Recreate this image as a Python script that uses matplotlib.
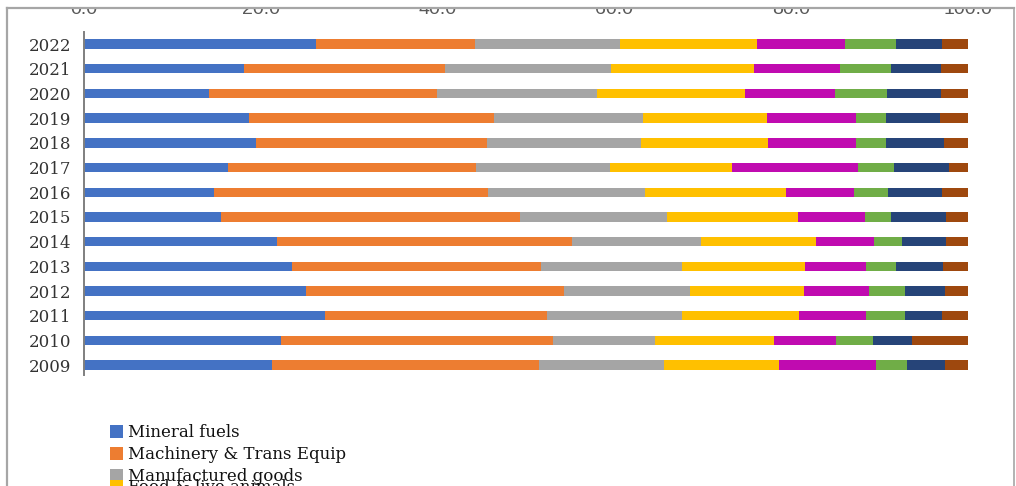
import matplotlib
matplotlib.use("Agg")
import matplotlib.pyplot as plt
from matplotlib.patches import Rectangle, Patch
from matplotlib.lines import Line2D
import numpy as np

years = ["2009", "2010", "2011", "2012", "2013", "2014", "2015",
         "2016", "2017", "2018", "2019", "2020", "2021", "2022"]

categories = ["Mineral fuels", "Machinery & Trans Equip", "Manufactured goods",
              "Food & live animals", "Chemicals", "Crude materials",
              "Misc. manufactured articles", "Others"]

colors = ["#4472C4", "#ED7D31", "#A5A5A5", "#FFC000",
          "#C00BB0", "#70AD47", "#264478", "#9E480E"]

# Percentage shares per year (2009 ... 2022), one list per category
mineral_fuels   = [21.3, 22.3, 27.3, 25.1, 23.5, 21.8, 15.5, 14.7, 16.3, 19.5, 18.7, 14.1, 18.1, 26.3]
machinery       = [30.2, 30.8, 25.1, 29.2, 28.2, 33.4, 33.8, 31.0, 28.1, 26.1, 27.7, 25.8, 22.7, 17.9]
manufactured    = [14.1, 11.5, 15.3, 14.2, 16.0, 14.6, 16.7, 17.8, 15.1, 17.4, 16.8, 18.1, 18.8, 16.4]
food            = [13.0, 13.4, 13.2, 12.9, 13.9, 13.0, 14.8, 15.9, 13.8, 14.4, 14.1, 16.8, 16.2, 15.5]
chemicals       = [11.0,  7.1,  7.6,  7.4,  6.9,  6.6,  7.5,  7.7, 14.2,  9.9, 10.0, 10.2,  9.7, 10.0]
crude           = [ 3.5,  4.1,  4.4,  4.1,  3.4,  3.1,  3.0,  3.8,  4.1,  3.4,  3.4,  5.8,  5.8,  5.8]
misc_articles   = [ 4.3,  4.5,  4.2,  4.5,  5.3,  5.0,  6.2,  6.2,  6.2,  6.6,  6.1,  6.1,  5.7,  5.2]
others          = [ 2.9,  6.3,  2.9,  2.6,  2.8,  2.5,  2.5,  2.9,  2.2,  2.7,  3.2,  3.1,  3.0,  2.9]

series = [mineral_fuels, machinery, manufactured, food,
          chemicals, crude, misc_articles, others]

xticks = [0, 20, 40, 60, 80, 100]

W, H = 1016, 486
fig = plt.figure(figsize=(W / 100, H / 100), dpi=100)
fig.patch.set_facecolor("white")

def px(x0, y0, x1, y1):
    return [x0 / W, 1 - y1 / H, (x1 - x0) / W, (y1 - y0) / H]

ax = fig.add_axes(px(84, 32, 968, 375))

y = np.arange(len(years))
left = np.zeros(len(years))
for vals, col, name in zip(series, colors, categories):
    vals = np.array(vals)
    ax.barh(y, vals, left=left, height=0.38, color=col, label=name, zorder=2)
    left += vals

ax.set_xlim(0, 100)
ax.set_ylim(-0.4, 13.49)
ax.set_yticks(y)
ax.set_yticklabels(years, family="DejaVu Serif", fontsize=12, color="#333333")
ax.xaxis.tick_top()
ax.set_xticks(xticks)
ax.set_xticklabels([f"{v:.1f}" for v in xticks], family="Liberation Sans",
                   fontsize=14, color="#595959")
ax.tick_params(axis="x", length=0, pad=10)
ax.tick_params(axis="y", length=0, pad=9)
for s in ["top", "right", "bottom"]:
    ax.spines[s].set_visible(False)
ax.spines["left"].set_color("#7f7f7f")
ax.spines["left"].set_linewidth(1.4)
ax.set_facecolor("white")

# white band above the outer frame, hiding the upper part of the tick labels
fig.add_artist(Rectangle((0, 1 - 8 / H), 1, 8 / H, transform=fig.transFigure,
                         facecolor="white", edgecolor="none", zorder=10))

# outer frame of the figure panel
frame_col = "#a6a6a6"
fig.add_artist(Line2D([7 / W, 1014 / W], [1 - 8 / H, 1 - 8 / H],
                      transform=fig.transFigure, color=frame_col, lw=1.6, zorder=11))
fig.add_artist(Line2D([7 / W, 7 / W], [0, 1 - 8 / H],
                      transform=fig.transFigure, color=frame_col, lw=1.6, zorder=11))
fig.add_artist(Line2D([1014 / W, 1014 / W], [0, 1 - 8 / H],
                      transform=fig.transFigure, color=frame_col, lw=1.2, zorder=11))

handles = [Patch(facecolor=c, edgecolor="none") for c in colors]
legend_kw = dict(frameon=False, loc="upper left", borderpad=0, borderaxespad=0,
                 handlelength=0.8, handleheight=0.8, handletextpad=0.3,
                 labelspacing=0.3, prop={"family": "DejaVu Serif", "size": 12})
leg1 = fig.legend(handles[:3], categories[:3],
                  bbox_to_anchor=(110 / W, 1 - 424 / H), **legend_kw)
leg2 = fig.legend(handles[3:], categories[3:],
                  bbox_to_anchor=(110 / W, 1 - 479 / H), **legend_kw)
for t in leg1.get_texts() + leg2.get_texts():
    t.set_color("#111111")

fig.savefig("out.png", dpi=100, facecolor="white")
